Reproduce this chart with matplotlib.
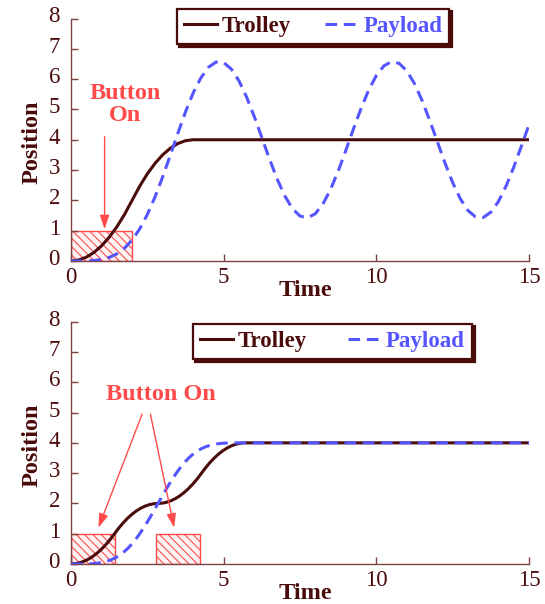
import matplotlib
matplotlib.use("Agg")
import matplotlib.pyplot as plt
from matplotlib.patches import Rectangle
from matplotlib.transforms import ScaledTranslation
from matplotlib.font_manager import FontProperties

plt.rcParams['font.family'] = ['Liberation Serif', 'DejaVu Serif']
plt.rcParams['hatch.linewidth'] = 0.8

# ---------------- data ----------------
# top panel: single button press
time_top_trolley = [0, 0.25, 0.5, 0.75, 1.0, 1.25, 1.5, 1.75, 2.0, 2.25, 2.5, 2.75,
                    3.0, 3.25, 3.5, 3.75, 4.0, 15.0]
trolley_top = [0.0, 0.031, 0.125, 0.281, 0.5, 0.781, 1.125, 1.531, 2.0, 2.469, 2.875,
               3.219, 3.5, 3.719, 3.875, 3.969, 4.0, 4.0]
time_top_payload = [0, 0.25, 0.5, 0.75, 1.0, 1.25, 1.5, 1.75, 2.0, 2.25, 2.5, 2.75,
                    3.0, 3.25, 3.5, 3.75, 4.0, 4.25, 4.5, 4.75, 5.0, 5.25, 5.5, 5.75,
                    6.0, 6.25, 6.5, 6.75, 7.0, 7.25, 7.5, 7.75, 8.0, 8.25, 8.5, 8.75,
                    9.0, 9.25, 9.5, 9.75, 10.0, 10.25, 10.5, 10.75, 11.0, 11.25, 11.5,
                    11.75, 12.0, 12.25, 12.5, 12.75, 13.0, 13.25, 13.5, 13.75, 14.0,
                    14.25, 14.5, 14.75, 15.0]
payload_top = [0.0, 0.0, 0.003, 0.016, 0.049, 0.116, 0.234, 0.420, 0.690, 1.058, 1.533,
               2.109, 2.768, 3.482, 4.213, 4.919, 5.54, 6.036, 6.390, 6.564, 6.545,
               6.333, 5.946, 5.411, 4.770, 4.071, 3.367, 2.710, 2.150, 1.731, 1.482,
               1.424, 1.560, 1.880, 2.360, 2.964, 3.646, 4.354, 5.036, 5.640, 6.120,
               6.440, 6.576, 6.518, 6.269, 5.850, 5.290, 4.633, 3.929, 3.230, 2.589,
               2.054, 1.667, 1.455, 1.436, 1.610, 1.964, 2.472, 3.095, 3.787, 4.495]
button_top = [(0.0, 2.0)]          # (start, end) of button-on intervals

# bottom panel: two button presses
time_bot = [0, 0.143, 0.285, 0.428, 0.57, 0.713, 0.855, 0.998, 1.14, 1.283, 1.425,
            1.568, 1.71, 1.853, 1.995, 2.138, 2.28, 2.423, 2.565, 2.708, 2.85, 2.993,
            3.135, 3.278, 3.42, 3.563, 3.705, 3.848, 3.99, 4.133, 4.275, 4.418, 4.56,
            4.703, 4.845, 4.988, 5.13, 5.273, 5.415, 5.558, 5.7, 15.0]
trolley_bot = [0.0, 0.01, 0.04, 0.09, 0.16, 0.25, 0.36, 0.49, 0.64, 0.81, 1.0, 1.19,
               1.36, 1.51, 1.64, 1.75, 1.84, 1.91, 1.96, 1.99, 2.0, 2.01, 2.04, 2.09,
               2.16, 2.25, 2.36, 2.49, 2.64, 2.81, 3.0, 3.19, 3.36, 3.51, 3.64, 3.75,
               3.84, 3.91, 3.96, 3.99, 4.0, 4.0]
payload_bot = [0.0, 0.0, 0.0003, 0.002, 0.005, 0.013, 0.026, 0.047, 0.080, 0.126,
               0.189, 0.273, 0.378, 0.508, 0.663, 0.841, 1.042, 1.262, 1.499, 1.746,
               2.0, 2.254, 2.501, 2.738, 2.958, 3.159, 3.337, 3.492, 3.622, 3.727,
               3.811, 3.874, 3.920, 3.953, 3.974, 3.987, 3.995, 3.998, 4.0, 4.0, 4.0,
               4.0]
button_bot = [(0.0, 1.43), (2.78, 4.21)]
button_level = 1.0

x_ticks = [0, 5, 10, 15]
y_ticks = [0, 1, 2, 3, 4, 5, 6, 7, 8]

# ---------------- styling ----------------
C_TROLLEY = '#4a0b0b'
C_PAYLOAD = '#5555ff'
C_RED = '#ff4a4a'
C_SPINE = '#7a4444'
C_TEXT = '#4a0b0b'
W, H = 545, 604
LW = 2.2

fig = plt.figure(figsize=(W / 100, H / 100), dpi=100)
ax1 = fig.add_axes([71 / W, (H - 261) / H, 458 / W, 242.5 / H])
ax2 = fig.add_axes([71 / W, (H - 564) / H, 458 / W, 242.3 / H])

bold = dict(family='Liberation Serif', weight='bold')
leg_font = FontProperties(family='Liberation Serif', weight='bold', size=16.5)


def style_axes(ax):
    ax.set_xlim(x_ticks[0], x_ticks[-1])
    ax.set_ylim(y_ticks[0], y_ticks[-1])
    ax.set_xticks(x_ticks)
    ax.set_yticks(y_ticks)
    for s in ['top', 'right']:
        ax.spines[s].set_visible(False)
    for s in ['left', 'bottom']:
        ax.spines[s].set_color(C_SPINE)
        ax.spines[s].set_linewidth(1.0)
    ax.tick_params(direction='in', length=5, width=1, color=C_SPINE,
                   labelcolor=C_TEXT, labelsize=16.5)
    ax.tick_params(axis='y', pad=8)
    ax.tick_params(axis='x', pad=4)
    off = ScaledTranslation(0, 4 / 100, fig.dpi_scale_trans)
    for lab in ax.get_yticklabels():
        lab.set_transform(lab.get_transform() + off)
    ax.set_ylabel('Position', fontsize=17.5, color=C_TEXT, **bold)
    ax.yaxis.set_label_coords(-0.062, 0.49)
    ax.set_xlabel('Time', fontsize=17.5, color=C_TEXT, **bold)
    ax.xaxis.set_label_coords(0.511, -0.08)


def draw_buttons(ax, intervals):
    for (a, b) in intervals:
        ax.add_patch(Rectangle((a, 0), b - a, button_level, facecolor='#fff4f4',
                               edgecolor=C_RED, hatch='\\\\\\\\', linewidth=1.0,
                               zorder=1.5))


def arrow(ax, start, end):
    ax.annotate('', xy=end, xytext=start,
                arrowprops=dict(arrowstyle='-|>,head_length=0.6,head_width=0.2',
                                color=C_RED, lw=1.0, mutation_scale=14,
                                shrinkA=0, shrinkB=0))


def legend(ax, cx, cy, colsp):
    leg = ax.legend(loc='center', bbox_to_anchor=(cx / W, 1 - cy / H),
                    bbox_transform=fig.transFigure, ncol=2, prop=leg_font,
                    handlelength=1.45, handletextpad=0.2, columnspacing=colsp,
                    borderpad=0.32, fancybox=False, framealpha=1,
                    edgecolor=C_TROLLEY, labelcolor='linecolor',
                    shadow={'color': C_TROLLEY, 'alpha': 1})
    leg.get_frame().set_linewidth(1.6)


# ---------------- top panel ----------------
style_axes(ax1)
draw_buttons(ax1, button_top)
ax1.plot(time_top_trolley, trolley_top, color=C_TROLLEY, lw=LW, label='Trolley',
         zorder=3)
ax1.plot(time_top_payload, payload_top, color=C_PAYLOAD, lw=LW,
         linestyle=(0, (3.8, 2.2)), label='Payload', zorder=3)
ax1.text(1.77, 5.15, 'Button\nOn', color=C_RED, fontsize=17.5, ha='center',
         va='center', linespacing=1.05, **bold)
arrow(ax1, (1.1, 4.1), (1.1, 1.05))
legend(ax1, 313, 26.5, 1.5)

# ---------------- bottom panel ----------------
style_axes(ax2)
draw_buttons(ax2, button_bot)
ax2.plot(time_bot, trolley_bot, color=C_TROLLEY, lw=LW, label='Trolley', zorder=3)
ax2.plot(time_bot, payload_bot, color=C_PAYLOAD, lw=LW,
         linestyle=(0, (3.8, 2.2)), label='Payload', zorder=3)
ax2.text(2.93, 5.58, 'Button On', color=C_RED, fontsize=17.5, ha='center',
         va='center', **bold)
arrow(ax2, (2.33, 4.95), (0.9, 1.2))
arrow(ax2, (2.6, 4.95), (3.38, 1.2))
legend(ax2, 332.5, 341.5, 1.8)

fig.savefig('out.png', dpi=100)
